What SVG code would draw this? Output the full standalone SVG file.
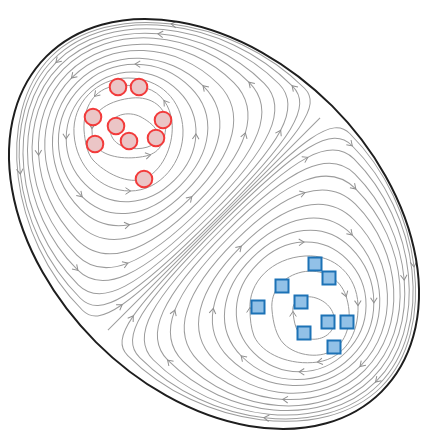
<svg xmlns="http://www.w3.org/2000/svg" width="436" height="444" viewBox="0 0 436 444">
<style>
.sl{fill:none;stroke:#9c9c9c;stroke-width:1}
.ah{fill:none;stroke:#8f8f8f;stroke-width:1}
.rc{fill:#ebc5c6;stroke:#f23b3b;stroke-width:2}
.bs{fill:#92c1e7;stroke:#1c72b6;stroke-width:2}
.bd{fill:none;stroke:#1e1e1e;stroke-width:2}
</style>
<defs>
<path id="ah" class="ah" d="M-4.5,-3.3 L0.6,0 L-4.5,3.3"/>
<g id="vx">
<path class="sl" d="M-63,0 C-63,-38.3 -37.8,-66 -3,-66 C33.4,-66 62,-37 62,0 C62,37 33.4,66 -3,66 C-37.8,66 -63,38.3 -63,0Z"/>
<path class="sl" d="M-71,0 C-71,-46.2 -46.2,-77 -9,-77 C34.7,-77 69,-43.1 69,0 C69,43.1 34.7,77 -9,77 C-46.2,77 -71,46.2 -71,0Z"/>
<path class="sl" d="M-79,0 C-79,-53.9 -55.4,-87 -17,-87 C33.6,-87 75,-47.9 75,0 C75,47.9 33.6,87 -17,87 C-55.4,87 -79,53.9 -79,0Z"/>
<path class="sl" d="M-87,0 C-87,-63.4 -65,-99 -26,-99 C33.4,-99 82,-54.5 82,0 C82,54.5 33.4,99 -26,99 C-65,99 -87,63.4 -87,0Z"/>
<path class="sl" d="M-95,0 C-95,-73.3 -74.9,-111 -36,-111 C31,-111 88,-59.9 88,0 C88,59.9 31,111 -36,111 C-74.9,111 -95,73.3 -95,0Z"/>
<path class="sl" d="M-102,0 C-102,-83 -84.4,-122 -47,-122 C29.1,-122 94,-65.9 94,0 C94,65.9 29.1,122 -47,122 C-84.4,122 -102,83 -102,0Z"/>
<path class="sl" d="M-108,0 C-108,-92.4 -93,-132 -58,-132 C25.2,-132 99,-70 99,0 C99,70 25.2,132 -58,132 C-93,132 -108,92.4 -108,0Z"/>
<path class="sl" d="M-113,0 C-113,-103.7 -101.1,-142 -69,-142 C21,-142 104,-73.8 104,0 C104,73.8 21,142 -69,142 C-101.1,142 -113,103.7 -113,0Z"/>
<path class="sl" d="M-117,0 C-117,-114 -108.1,-150 -80,-150 C17.8,-150 108,-78 108,0 C108,78 17.8,150 -80,150 C-108.1,150 -117,114 -117,0Z"/>
<path class="sl" d="M-120,0 C-120,-125.6 -114,-157 -90,-157 C12.8,-157 111.5,-80.1 111.5,0 C111.5,80.1 12.8,157 -90,157 C-114,157 -120,125.6 -120,0Z"/>
<use href="#ah" transform="translate(-46,-47.4) rotate(-47.7)"/>
<use href="#ah" transform="translate(43.2,46.9) rotate(134.6)"/>
<use href="#ah" transform="translate(46.4,-54.7) rotate(44.6)"/>
<use href="#ah" transform="translate(-9,77) rotate(180)"/>
<use href="#ah" transform="translate(-17,-87) rotate(0)"/>
<use href="#ah" transform="translate(-62.4,63.7) rotate(-125.5)"/>
<use href="#ah" transform="translate(-87,0) rotate(-90)"/>
<use href="#ah" transform="translate(82,0) rotate(90)"/>
<use href="#ah" transform="translate(-80.1,-83) rotate(-62)"/>
<use href="#ah" transform="translate(51.1,78) rotate(138.2)"/>
<use href="#ah" transform="translate(-47,-122) rotate(0)"/>
<use href="#ah" transform="translate(-88.5,92.1) rotate(-114.3)"/>
<use href="#ah" transform="translate(51.7,-92.2) rotate(40.1)"/>
<use href="#ah" transform="translate(-58,132) rotate(180)"/>
<use href="#ah" transform="translate(-103,-109.9) rotate(-72.8)"/>
<use href="#ah" transform="translate(104,0) rotate(90)"/>
<use href="#ah" transform="translate(-80,-150) rotate(0)"/>
<use href="#ah" transform="translate(50.7,104.25) rotate(141.4)"/>
<use href="#ah" transform="translate(49.3,-108.5) rotate(37.9)"/>
<use href="#ah" transform="translate(-114,125.6) rotate(-100.8)"/>
</g>
</defs>
<rect width="436" height="444" fill="#ffffff"/>
<g id="streamlines">
<use href="#vx" transform="translate(214,224) rotate(45) translate(-122,-3) scale(-1,1)"/>
<use href="#vx" transform="translate(214,224) rotate(45) translate(122,-3)"/>
<path class="sl" transform="translate(214,224) rotate(45)" d="M0,150 L0,-150"/>
<path class="sl" d="M110,128 C110,115 128,110 141,117 C150,122 161,130 157,140 C153,149 133,151 122,146 C113,142 110,135 110,128 Z"/>
<path class="sl" d="M92,130 C90,110 112,100 132,98 C152,96 167,108 166,124 C165,140 162,152 146,156 C128,160 105,158 96,146 C93,141 92,136 92,130 Z"/>
<path class="sl" d="M84,130 C83,108 94,88 116,86 C128,85 136,85 146,88 C162,93 170,106 172,122 C174,142 165,168 146,178 C128,186 104,172 93,160 C87,153 85,142 84,130 Z"/>
<path class="sl" d="M74,134 C72,104 96,78 128,78 C160,78 182,100 183,130 C184,162 160,191 130,191 C100,191 76,166 74,134 Z"/>
<use href="#ah" transform="translate(92,128) rotate(92)"/>
<use href="#ah" transform="translate(150,155) rotate(-12)"/>
<use href="#ah" transform="translate(94.9,96) rotate(133)"/>
<use href="#ah" transform="translate(164.3,100.9) rotate(-126)"/>
<use href="#ah" transform="translate(130,191) rotate(0)"/>
<path class="sl" d="M293,312 C291,300 304,294 316,298 C328,302 336,312 334,324 C332,336 318,342 306,338 C296,335 294,322 293,312 Z"/>
<path class="sl" d="M272,310 C270,290 284,276 302,272 C322,268 340,278 346,296 C352,314 350,336 336,348 C322,360 296,356 284,344 C276,336 273,322 272,310 Z"/>
<path class="sl" d="M250,310 C248,282 272,258 305,256 C335,254 357,276 358,305 C359,335 344,358 318,362 C290,366 262,354 254,336 C251,328 250,319 250,310 Z"/>
<use href="#ah" transform="translate(293,312) rotate(-90)"/>
<use href="#ah" transform="translate(346,296) rotate(72)"/>
<use href="#ah" transform="translate(250,308) rotate(-90)"/>
<use href="#ah" transform="translate(318,362) rotate(171)"/>
<use href="#ah" transform="translate(358,305) rotate(88)"/>
</g>
<ellipse id="boundary" class="bd" cx="214" cy="224" rx="237" ry="167" transform="rotate(45 214 224)"/>
<g id="c1"><circle class="rc" cx="118" cy="87" r="8.3"/></g>
<g id="c2"><circle class="rc" cx="139" cy="87" r="8.3"/></g>
<g id="c3"><circle class="rc" cx="93" cy="117" r="8.3"/></g>
<g id="c4"><circle class="rc" cx="163" cy="120" r="8.3"/></g>
<g id="c5"><circle class="rc" cx="116" cy="126" r="8.3"/></g>
<g id="c6"><circle class="rc" cx="129" cy="141" r="8.3"/></g>
<g id="c7"><circle class="rc" cx="156" cy="138" r="8.3"/></g>
<g id="c8"><circle class="rc" cx="95" cy="144" r="8.3"/></g>
<g id="c9"><circle class="rc" cx="144" cy="179" r="8.3"/></g>
<g id="s1"><rect class="bs" x="308.5" y="257.5" width="13" height="13"/></g>
<g id="s2"><rect class="bs" x="322.5" y="271.5" width="13" height="13"/></g>
<g id="s3"><rect class="bs" x="275.5" y="279.5" width="13" height="13"/></g>
<g id="s4"><rect class="bs" x="294.5" y="295.5" width="13" height="13"/></g>
<g id="s5"><rect class="bs" x="251.5" y="300.5" width="13" height="13"/></g>
<g id="s6"><rect class="bs" x="321.5" y="315.5" width="13" height="13"/></g>
<g id="s7"><rect class="bs" x="340.5" y="315.5" width="13" height="13"/></g>
<g id="s8"><rect class="bs" x="297.5" y="326.5" width="13" height="13"/></g>
<g id="s9"><rect class="bs" x="327.5" y="340.5" width="13" height="13"/></g>
</svg>
